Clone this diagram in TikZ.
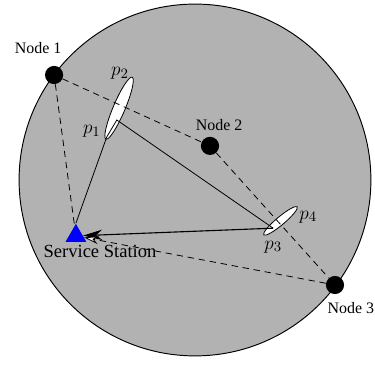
\documentclass[tikz,border=0pt]{standalone}
\usepackage{fontspec}
\setmainfont{Liberation Serif}
\usetikzlibrary{arrows.meta,shapes.geometric}

\tikzset{
  sensor/.style={circle,fill=black,inner sep=0pt,minimum size=0.4cm},
  link/.style={dash pattern=on 4pt off 3pt,line width=0.5pt},
  lbl/.style={font=\fontsize{10}{12}\selectfont,inner sep=0pt},
  plbl/.style={font=\fontsize{13}{15}\selectfont,inner sep=0pt},
  lens/.style={fill=white,draw=black,line width=0.5pt}
}

\begin{document}
\begin{tikzpicture}

\useasboundingbox (-4.29,-4.07) rectangle (3.96,3.96);

% Coverage area
\fill[black!30] (0,0) circle (3.87);
\draw[line width=0.6pt] (0,0) circle (3.87);

% Lenses
\draw[lens,shift={(-1.67,1.58)},rotate=67] (0,0) ellipse (0.74 and 0.13);
\draw[lens,shift={(1.88,-0.90)},rotate=40] (0,0) ellipse (0.48 and 0.09);

% Nodes
\node[sensor] (n1) at (-3.10,2.31) {};
\node[sensor] (n2) at (0.33,0.75) {};
\node[sensor] (n3) at (3.08,-2.31) {};
\node[regular polygon,regular polygon sides=3,fill=blue,inner sep=0pt,
  minimum size=0.53cm] (ss) at (-2.62,-1.23) {};

% Route points
\coordinate (p1pt) at (-1.94,0.95);
\coordinate (a) at (-1.72,1.32);
\coordinate (b) at (1.72,-1.06);

% Solid route
\draw[line width=0.5pt] (ss.corner 1) -- (p1pt) -- (a) -- (b);
\draw[line width=0.7pt,-{Stealth[length=12pt,width=6.5pt]}] (b) -- (ss);

% Dashed links
\draw[link] (n1) -- (n2) -- (n3);
\draw[link] (n1) -- (ss);
\draw[link,-{Stealth[open,fill=white,length=9pt,width=5pt]}] (n3) -- (ss);

% Labels
\node[lbl] (l1) at (-3.45,2.90) {Node 1};
\node[lbl] (l2) at (0.53,1.21) {Node 2};
\node[lbl] (l3) at (3.43,-2.82) {Node 3};
\node[lbl,font=\fontsize{11.6}{14}\selectfont] (lss) at (-2.09,-1.58) {Service Station};
\node[plbl] (lp2) at (-1.65,2.35) {$p_2$};
\node[plbl] (lp1) at (-2.27,1.08) {$p_1$};
\node[plbl] (lp4) at (2.49,-0.81) {$p_4$};
\node[plbl] (lp3) at (1.72,-1.47) {$p_3$};

\end{tikzpicture}
\end{document}
